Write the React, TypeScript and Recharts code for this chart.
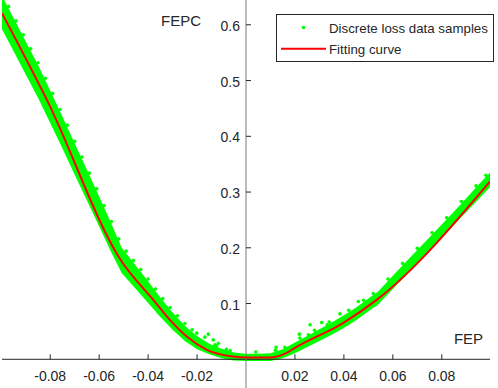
import {
  ComposedChart,
  XAxis,
  YAxis,
  Area,
  Line,
  Scatter,
  ReferenceLine,
  ReferenceDot,
} from "recharts";

const FONT = '"Liberation Sans", Arial, Helvetica, sans-serif';
const INK = "#262626";
const GREEN = "#00ff00";
const RED = "#ff0000";

// fitted curve
const FIT_X = [-0.0997, -0.0814, -0.0508, -0.0379, -0.0311, -0.0242, -0.016, -0.0053, 0, 0.0098, 0.0166, 0.02, 0.0398, 0.0539, 0.0997];
const FIT_Y = [0.621, 0.4657, 0.1754, 0.1066, 0.0707, 0.0408, 0.0169, 0.0048, 0.0031, 0.0031, 0.0115, 0.0205, 0.0654, 0.1084, 0.319];

// extent of the dense sample cloud (lower / upper edge)
const BAND_X = [-0.0997, -0.095, -0.09, -0.085, -0.08, -0.075, -0.07, -0.065, -0.06, -0.055, -0.0508, -0.045, -0.04, -0.035, -0.03, -0.025, -0.02, -0.015, -0.01, -0.005, 0, 0.005, 0.01, 0.015, 0.02, 0.025, 0.03, 0.035, 0.04, 0.045, 0.05, 0.0539, 0.06, 0.065, 0.07, 0.075, 0.08, 0.085, 0.09, 0.095, 0.0997];
const BAND_HI = [0.652, 0.612, 0.57, 0.528, 0.482, 0.435, 0.387, 0.34, 0.292, 0.243, 0.2, 0.168, 0.14, 0.111, 0.084, 0.06, 0.042, 0.028, 0.019, 0.012, 0.01, 0.01, 0.011, 0.018, 0.03, 0.042, 0.054, 0.066, 0.079, 0.093, 0.109, 0.121, 0.15, 0.173, 0.196, 0.219, 0.242, 0.265, 0.289, 0.313, 0.335];
const BAND_LO = [0.592, 0.553, 0.511, 0.469, 0.424, 0.378, 0.331, 0.285, 0.238, 0.191, 0.155, 0.126, 0.101, 0.076, 0.053, 0.033, 0.018, 0.009, 0.002, -0.002, -0.003, -0.003, -0.003, 0.002, 0.011, 0.022, 0.033, 0.044, 0.056, 0.07, 0.086, 0.098, 0.126, 0.149, 0.172, 0.195, 0.218, 0.241, 0.264, 0.287, 0.309];

// single samples sticking out of the cloud
const SAMPLE_X = [
  -0.097, -0.094, -0.091, -0.088, -0.085, -0.082, -0.079, -0.076, -0.073, -0.07, -0.067, -0.064, -0.061,
  -0.058, -0.055, -0.052, -0.049, -0.046, -0.043, -0.04, -0.037, -0.034, -0.031, -0.028, -0.025, -0.022,
  -0.0201, -0.0168, -0.0154, -0.0134, -0.0127, -0.0113, -0.0065, -0.012, -0.008, 0.004, 0.012,
  0.0123, 0.0159, 0.0218, 0.0255, 0.0262, 0.0309, 0.0332, 0.0384, 0.0459,
  0.022, 0.028, 0.034, 0.042, 0.048, 0.052, 0.058, 0.064, 0.07, 0.076, 0.082, 0.088, 0.094, 0.098,
];
const SAMPLE_Y = [
  0.633, 0.607, 0.582, 0.557, 0.532, 0.504, 0.477, 0.448, 0.42, 0.391, 0.363, 0.334, 0.306,
  0.276, 0.247, 0.216, 0.194, 0.177, 0.161, 0.144, 0.126, 0.109, 0.093, 0.078, 0.064, 0.053,
  0.0469, 0.0397, 0.0451, 0.0348, 0.0259, 0.0289, 0.0156, 0.024, 0.018, 0.013, 0.016,
  0.0217, 0.0217, 0.0451, 0.0438, 0.0618, 0.0659, 0.0618, 0.0815, 0.1036,
  0.038, 0.052, 0.067, 0.088, 0.106, 0.118, 0.144, 0.172, 0.199, 0.227, 0.254, 0.283, 0.311, 0.33,
];

const X_TICKS = [-0.08, -0.06, -0.04, -0.02, 0.02, 0.04, 0.06, 0.08];
const X_TICK_LABELS = ["-0.08", "-0.06", "-0.04", "-0.02", "0.02", "0.04", "0.06", "0.08"];
const Y_TICKS = [0.1, 0.2, 0.3, 0.4, 0.5, 0.6];
const Y_TICK_LABELS = ["0.1", "0.2", "0.3", "0.4", "0.5", "0.6"];

const xTick = (label: string) => (p: any) => (
  <g>
    <line x1={p.cx} y1={p.cy} x2={p.cx} y2={p.cy - 5} stroke={INK} strokeWidth={1} />
    <text x={p.cx} y={p.cy + 22} textAnchor="middle" fontSize={14} fontFamily={FONT} fill={INK}>
      {label}
    </text>
  </g>
);

const yTick = (label: string) => (p: any) => (
  <g>
    <line x1={p.cx} y1={p.cy} x2={p.cx + 5} y2={p.cy} stroke={INK} strokeWidth={1} />
    <text x={p.cx - 6} y={p.cy + 6} textAnchor="end" fontSize={14} fontFamily={FONT} fill={INK}>
      {label}
    </text>
  </g>
);

const axisName = (label: string, anchor: "start" | "end") => (p: any) => (
  <text x={p.cx} y={p.cy} textAnchor={anchor} fontSize={15} fontFamily={FONT} fill={INK}>
    {label}
  </text>
);

const sampleDot = (p: any) => <circle cx={p.cx} cy={p.cy} r={1.8} fill={GREEN} />;

export default function App() {
  const band = BAND_X.map((x, i) => ({ x, range: [BAND_LO[i], BAND_HI[i]] }));
  const fit = FIT_X.map((x, i) => ({ x, y: FIT_Y[i] }));
  const samples = SAMPLE_X.map((x, i) => ({ x, y: SAMPLE_Y[i] }));

  return (
    <div style={{ position: "absolute", left: 0, top: 0, width: 498, height: 388, background: "#fff" }}>
      <ComposedChart width={498} height={388} margin={{ top: 0, right: 8, bottom: 0, left: 2 }}>
        <XAxis type="number" dataKey="x" domain={[-0.0997, 0.0997]} allowDataOverflow hide />
        <YAxis type="number" dataKey="y" domain={[-0.0515, 0.6445]} allowDataOverflow hide />
        <ReferenceLine y={0} stroke={INK} strokeWidth={1} />
        <ReferenceLine x={0} stroke="#7a7a7a" strokeWidth={1} />
        <Area
          data={band}
          dataKey="range"
          type="linear"
          stroke="none"
          fill={GREEN}
          fillOpacity={1}
          dot={false}
          activeDot={false}
          isAnimationActive={false}
        />
        <Scatter data={samples} dataKey="y" fill={GREEN} shape={sampleDot} isAnimationActive={false} />
        <Line
          data={fit}
          dataKey="y"
          type="monotone"
          stroke={RED}
          strokeWidth={2}
          dot={false}
          activeDot={false}
          isAnimationActive={false}
        />
        {X_TICKS.map((t, i) => (
          <ReferenceDot key={"x" + t} x={t} y={0} shape={xTick(X_TICK_LABELS[i])} />
        ))}
        {Y_TICKS.map((t, i) => (
          <ReferenceDot key={"y" + t} x={0} y={t} shape={yTick(Y_TICK_LABELS[i])} />
        ))}
        <ReferenceDot x={0.0969} y={0.0277} shape={axisName("FEP", "end")} />
        <ReferenceDot x={-0.0347} y={0.5986} shape={axisName("FEPC", "start")} />
      </ComposedChart>

      {/* legend box, top right inside the axes */}
      <div
        style={{
          position: "absolute",
          left: 276,
          top: 14,
          width: 218,
          height: 48,
          boxSizing: "border-box",
          border: `1px solid ${INK}`,
          background: "#fff",
        }}
      >
        <svg width={216} height={46} style={{ display: "block" }}>
          <circle cx={26.5} cy={12.5} r={1.8} fill={GREEN} />
          <line x1={4} y1={33.7} x2={49} y2={33.7} stroke={RED} strokeWidth={2} />
          <text x={52} y={18.3} fontSize={13.3} fontFamily={FONT} fill={INK}>
            Discrete loss data samples
          </text>
          <text x={52} y={39.3} fontSize={13.3} fontFamily={FONT} fill={INK}>
            Fitting curve
          </text>
        </svg>
      </div>
    </div>
  );
}
